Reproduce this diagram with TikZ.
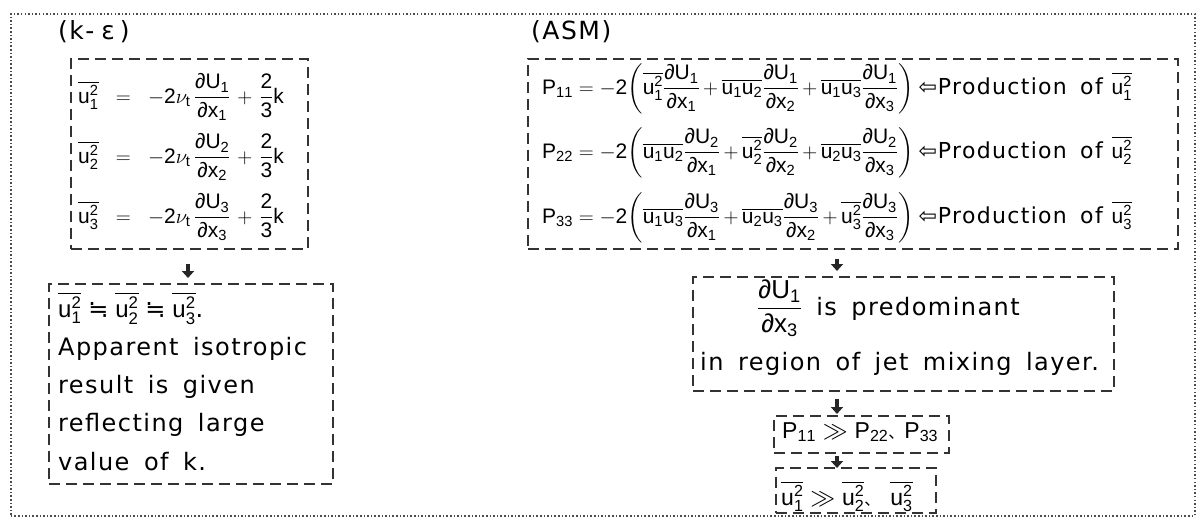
\documentclass[tikz,border=0pt]{standalone}
\usepackage{amsmath,amssymb}
\usepackage{fontspec}
\setmainfont{DejaVu Sans}
\setsansfont{Liberation Sans}
\newfontfamily\txtf[LetterSpace=6,WordSpace=1.6]{DejaVu Sans}
\newfontfamily\mlet{Liberation Sans}
\newfontfamily\dvs{DejaVu Sans}
\newfontfamily\cjk{Noto Sans CJK JP}
\usetikzlibrary{arrows.meta,calc}
\newcommand\myub[1]{\overline{\mathsf{u}^{\mathsf{2}}_{\mathsf{#1}}}}
\newcommand\myuv[2]{\overline{\mathsf{u}_{\mathsf{#1}}\mathsf{u}_{\mathsf{#2}}}}
\newcommand\mypd{\text{\mlet ∂}}
\newcommand\myd[2]{\dfrac{\mypd\mathsf{U}_{\mathsf{#1}}}{\mypd\mathsf{x}_{\mathsf{#2}}}}
\newcommand\cjkcomma{\text{\cjk\fontsize{16}{16}\selectfont 、}}
\newcommand\apx{\mathrel{\text{\dvs ≒}}}
\newcommand\prodof[1]{\hspace{5pt}{\txtf\fontsize{22}{26}\selectfont ⇦\hspace{1pt}Production of}\hspace{9pt}$\myub#1$}
\newcommand\myleq[1]{$\thickmuskip=15mu\medmuskip=6mu\myub#1=-\mathsf{2}\nu_{\mathsf{t}}\,\myd#1#1+\dfrac{\mathsf2}{\mathsf3}\mathsf{k}$}
\tikzset{
  frame/.style={draw=black!70, line width=1.7pt, dash pattern=on 1.5pt off 2.1pt, inner sep=0pt, anchor=north west},
  dbox/.style={draw=black!80, line width=1.7pt, dash pattern=on 11pt off 6pt, inner sep=0pt, anchor=north west},
  txt/.style={inner sep=0pt, anchor=base west, text=black, font=\txtf\fontsize{24}{28}\selectfont},
  eqa/.style={inner sep=0pt, anchor=base west, text=black, font=\fontsize{21}{25}\selectfont},
  eqb/.style={inner sep=0pt, anchor=base west, text=black, font=\fontsize{23}{27}\selectfont},
  downarr/.style={draw=black!85, line width=4pt, -{Triangle[length=7pt,width=12pt]}}
}
\begin{document}
\begin{tikzpicture}[x=1pt,y=-1pt]
\useasboundingbox (0,0) rectangle (1196,519);
\fill[white] (0,0) rectangle (1196,519);
% outer dotted frame
\node[frame, minimum width=1184pt, minimum height=502pt] (outer) at (10,13) {};
% titles
\node[txt, font=\txtf\fontsize{25}{29}\selectfont] (lk) at (58,40) {(k-\hspace{7pt}ε\hspace{5pt})};
\node[txt, font=\txtf\fontsize{25}{29}\selectfont] (lasm) at (531,40) {(ASM)};
% k-epsilon equations
\node[dbox, minimum width=237pt, minimum height=190pt] (eqL) at (70,58) {};
\node[eqa] (l1) at (78,103) {\myleq1};
\node[eqa] (l2) at (78,163) {\myleq2};
\node[eqa] (l3) at (78,223) {\myleq3};
% isotropic box
\node[dbox, minimum width=284pt, minimum height=200pt] (iso) at (48,283) {};
\node[txt] (i1) at (58,317) {$\myub1\apx\myub2\apx\myub3$.};
\node[txt] (i2) at (58,355) {Apparent isotropic};
\node[txt] (i3) at (58,393) {result is given};
\node[txt] (i4) at (58,431) {reflecting large};
\node[txt] (i5) at (58,470) {value of k.};
% ASM equations
\node[dbox, minimum width=650pt, minimum height=190pt] (asm) at (527,58) {};
\node[eqa] (a1) at (542,94) {$\medmuskip=3mu\mathsf{P}_{\mathsf{11}}=-\mathsf{2}{\left(\myub1\myd11+\myuv12\myd12+\myuv13\myd13\right)}$\prodof1};
\node[eqa] (a2) at (542,158) {$\medmuskip=3mu\mathsf{P}_{\mathsf{22}}=-\mathsf{2}{\left(\myuv12\myd21+\myub2\myd22+\myuv23\myd23\right)}$\prodof2};
\node[eqa] (a3) at (542,223) {$\medmuskip=3mu\mathsf{P}_{\mathsf{33}}=-\mathsf{2}{\left(\myuv13\myd31+\myuv23\myd32+\myub3\myd33\right)}$\prodof3};
% predominant box
\node[dbox, minimum width=421pt, minimum height=114pt] (pred) at (692,276) {};
\node[txt] (p1) at (757,315) {{\fontsize{26}{30}\selectfont$\myd13$} is predominant};
\node[txt] (p2) at (700,370) {in region of jet mixing layer.};
% P11 box
\node[dbox, minimum width=175pt, minimum height=37pt] (pbox) at (773,415) {};
\node[eqb] (pt) at (782,438) {$\mathsf{P}_{\mathsf{11}}\gg\mathsf{P}_{\mathsf{22}}\cjkcomma\mathsf{P}_{\mathsf{33}}$};
% u box
\node[dbox, minimum width=160pt, minimum height=45pt] (ubox) at (775,467) {};
\node[eqb] (ut) at (781,505) {$\myub1\gg\myub2\cjkcomma\hspace{10pt}\myub3$};
% arrows
\coordinate (cl) at (188,0);
\coordinate (cr) at (837,0);
\draw[downarr] ($(eqL.south -| cl)+(0,14)$) -- ($(iso.north -| cl)+(0,-5)$);
\draw[downarr] ($(asm.south -| cr)+(0,9)$) -- ($(pred.north -| cr)+(0,-5)$);
\draw[downarr] ($(pred.south -| cr)+(0,7)$) -- ($(pbox.north -| cr)+(0,-1)$);
\draw[downarr] ($(pbox.south -| cr)+(0,2)$) -- ($(ubox.north -| cr)+(0,1)$);
\end{tikzpicture}
\end{document}
